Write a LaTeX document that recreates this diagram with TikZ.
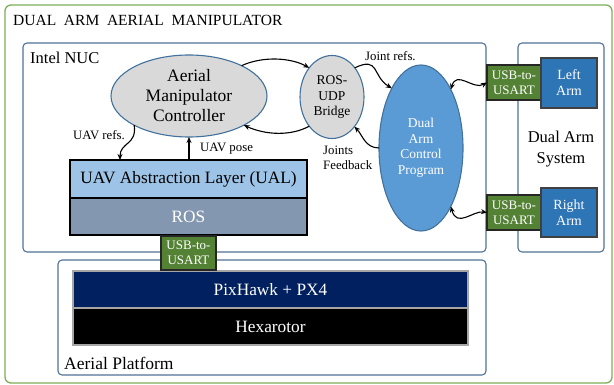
\documentclass[tikz,border=0pt]{standalone}
\usepackage{fontspec}
\setmainfont{Liberation Serif}
\usetikzlibrary{arrows.meta,shapes.geometric,calc}
\definecolor{outerg}{HTML}{7EAE58}
\definecolor{frameb}{HTML}{4F7196}
\definecolor{ellb}{HTML}{41719C}
\definecolor{amcfill}{HTML}{D9D9D9}
\definecolor{dacpfill}{HTML}{5B9BD5}
\definecolor{ualfill}{HTML}{9DC3E6}
\definecolor{rosfill}{HTML}{8497B0}
\definecolor{usbfill}{HTML}{548235}
\definecolor{armfill}{HTML}{2E75B6}
\definecolor{pxfill}{HTML}{002060}
\tikzset{
  frame/.style={draw=frameb, line width=1.1pt, rounded corners=4pt, anchor=north west, inner sep=0pt, outer sep=0pt},
  blk/.style={draw, line width=1.1pt, anchor=north west, inner sep=0pt, outer sep=0pt, align=center},
  ell/.style={ellipse, draw=ellb, line width=1.1pt, inner sep=0pt, outer sep=0pt, align=center},
  usb/.style={blk, fill=usbfill, draw=black!85, text=white, minimum width=54pt, font=\fontsize{13}{15}\selectfont},
  arm/.style={blk, fill=armfill, draw=black!75, text=white, minimum width=56pt, font=\fontsize{14}{16}\selectfont},
  lbl/.style={inner sep=0pt, font=\fontsize{12.8}{15}\selectfont},
  stk/.style={font=\fontsize{17.3}{19}\selectfont},
  con/.style={line width=1.1pt, -{Stealth[length=6pt,width=5pt]}},
  dcon/.style={line width=1.1pt, {Stealth[length=6pt,width=5pt]}-{Stealth[length=6pt,width=5pt]}},
}
\begin{document}
\begin{tikzpicture}[x=1pt,y=-1pt]
\useasboundingbox (0,0) rectangle (614,385);
% outer frame
\node[frame, draw=outerg, line width=1.3pt, rounded corners=6pt, minimum width=607pt, minimum height=378pt] (outer) at (5,5) {};
\node[anchor=west, inner sep=0pt, font=\fontsize{15.5}{18}\selectfont] (title) at (13,20) {DUAL\ \ ARM\ \ AERIAL\ \ MANIPULATOR};
% containers
\node[frame, minimum width=463pt, minimum height=209pt] (nuc) at (23,43) {};
\node[anchor=west, inner sep=0pt, font=\fontsize{16.5}{18}\selectfont] (nuclbl) at (30,58) {Intel NUC};
\node[frame, minimum width=86pt, minimum height=209pt] (das) at (518,43) {};
\node[frame, minimum width=428pt, minimum height=115pt] (ap) at (58,260) {};
\node[anchor=west, inner sep=0pt, font=\fontsize{17.5}{18}\selectfont] (aplbl) at (64,363) {Aerial Platform};
\node[align=center, inner sep=0pt, font=\fontsize{16.5}{21}\selectfont] (daslbl) at (561,149) {Dual Arm\\System};
% ellipses
\node[ell, fill=amcfill, minimum width=156pt, minimum height=82pt, font=\fontsize{17.5}{20}\selectfont] (amc) at (189,96) {Aerial\\Manipulator\\Controller};
\node[ell, fill=amcfill, minimum width=64pt, minimum height=83pt, font=\fontsize{13.5}{15.5}\selectfont] (bridge) at (332,97) {ROS-\\UDP\\Bridge};
\node[ell, fill=dacpfill, minimum width=84pt, minimum height=166pt, text=white, font=\fontsize{13.5}{15.5}\selectfont] (dacp) at (421,148) {Dual\\Arm\\Control\\Program};
% stack
\node[blk, stk, fill=ualfill, minimum width=237pt, minimum height=38pt] (ual) at (70,160) {UAV Abstraction Layer (UAL)};
\node[blk, stk, fill=rosfill, minimum width=237pt, minimum height=37pt, text=white] (ros) at (70,198) {ROS};
\node[blk, stk, fill=pxfill, draw=black!35, minimum width=395pt, minimum height=37pt, text=white] (px) at (73,271) {PixHawk + PX4};
\node[blk, stk, fill=black, draw=black!35, minimum width=395pt, minimum height=37pt, text=white] (hex) at (73,308) {Hexarotor};
\node[usb, minimum width=55pt, minimum height=34pt] (usbb) at (161,236) {USB-to-\\USART};
% arms
\node[usb, minimum height=35pt] (usbl) at (487,65) {USB-to-\\USART};
\node[arm, minimum height=50pt] (larm) at (541,58) {Left\\Arm};
\node[usb, minimum height=35pt] (usbr) at (487,195) {USB-to-\\USART};
\node[arm, minimum height=49pt] (rarm) at (541,188) {Right\\Arm};
% labels
\node[lbl, anchor=west] (jr) at (365,56) {Joint refs.};
\node[lbl, anchor=west, align=left] (jf) at (323,158) {Joints\\Feedback};
\node[lbl, anchor=west] (ur) at (73,135) {UAV refs.};
\node[lbl, anchor=west] (up) at (200,149) {UAV pose};
% connectors
\draw[con] (amc.30) .. controls +(22,-10) and +(-18,-10) .. (bridge.128);
\draw[con] (bridge.232) .. controls +(-18,10) and +(22,10) .. (amc.-28);
\draw[con] (bridge.52) .. controls +(25,-12) and +(-20,-12) .. (dacp.116);
\draw[con] (dacp.180) .. controls +(-14,0) and +(8,8) .. (bridge.-53);
\draw[con] (amc.208) .. controls +(3,20) and +(0,-18) .. ([xshift=50pt]ual.north west);
\draw[con] (amc.south |- ual.north) -- (amc.south);
\draw[dcon] (dacp.63) .. controls +(6,-20) and +(-14,8) .. (usbl.west);
\draw[dcon] (dacp.-63) .. controls +(6,22) and +(-14,-2) .. (usbr.west);
\end{tikzpicture}
\end{document}
